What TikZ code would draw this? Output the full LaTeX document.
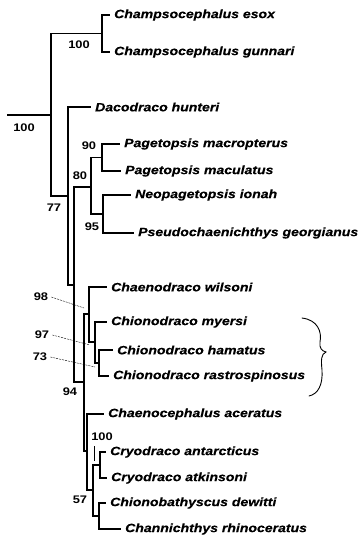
\documentclass[tikz,border=0pt]{standalone}
\usepackage{fontspec}
\newfontfamily\taxfont[FakeStretch=1.17, BoldItalicFeatures={FakeBold=0.4}]{Liberation Sans}
\tikzset{
  branch/.style={line width=1.4pt},
  taxon/.style={anchor=west, inner xsep=4pt, inner ysep=0pt,
    font=\taxfont\fontsize{12}{12}\selectfont\bfseries\itshape},
  support/.style={inner sep=0pt, font=\taxfont\fontsize{11}{11}\selectfont\bfseries},
  leader/.style={thin, dash pattern=on 2pt off 1pt},
  hand/.style={line width=0.9pt, line cap=round},
}
\begin{document}
\begin{tikzpicture}[x=1pt,y=-1pt]
        \useasboundingbox (0,0) rectangle (359,538);

        % Internal nodes
        \coordinate (root) at (7,115);
        \coordinate (nA) at (51,115);
        \coordinate (nChamp) at (102,33.5);
        \coordinate (nB) at (68,196);
        \coordinate (nC) at (74,285);
        \coordinate (n80) at (91,187);
        \coordinate (nPag) at (102,157.5);
        \coordinate (n95) at (103,214);
        \coordinate (n94) at (84,382);
        \coordinate (n98) at (89,314);
        \coordinate (n97) at (95,342);
        \coordinate (n73) at (99,363);
        \coordinate (nF) at (87,451);
        \coordinate (n57) at (93,490);
        \coordinate (nCryo) at (100,465);
        \coordinate (nChan) at (99,516);

        % Taxa
        \node[taxon] (esox) at (110,15) {Champsocephalus esox};
        \node[taxon] (gunnari) at (110,52) {Champsocephalus gunnari};
        \node[taxon] (hunteri) at (91,107) {Dacodraco hunteri};
        \node[taxon] (macropterus) at (120,144) {Pagetopsis macropterus};
        \node[taxon] (maculatus) at (121,171) {Pagetopsis maculatus};
        \node[taxon] (ionah) at (131,195) {Neopagetopsis ionah};
        \node[taxon] (georgianus) at (134,233) {Pseudochaenichthys georgianus};
        \node[taxon] (wilsoni) at (107,287) {Chaenodraco wilsoni};
        \node[taxon] (myersi) at (107,322) {Chionodraco myersi};
        \node[taxon] (hamatus) at (113,350) {Chionodraco hamatus};
        \node[taxon] (rastro) at (109,376) {Chionodraco rastrospinosus};
        \node[taxon] (aceratus) at (104,414) {Chaenocephalus aceratus};
        \node[taxon] (antarcticus) at (106,452) {Cryodraco antarcticus};
        \node[taxon] (atkinsoni) at (107,478) {Cryodraco atkinsoni};
        \node[taxon] (dewitti) at (106,503) {Chionobathyscus dewitti};
        \node[taxon] (rhino) at (121,529) {Channichthys rhinoceratus};

        % Branches
        \draw[branch] (root) -- (nA);
        \draw[branch] (nA) |- (nChamp);
        \draw[branch] (nA) |- (nB);
        \draw[branch] (nChamp) |- (esox.west);
        \draw[branch] (nChamp) |- (gunnari.west);
        \draw[branch] (nB) |- (hunteri.west);
        \draw[branch] (nB) |- (nC);
        \draw[branch] (nC) |- (n80);
        \draw[branch] (nC) |- (n94);
        \draw[branch] (n80) |- (nPag);
        \draw[branch] (n80) |- (n95);
        \draw[branch] (nPag) |- (macropterus.west);
        \draw[branch] (nPag) |- (maculatus.west);
        \draw[branch] (n95) |- (ionah.west);
        \draw[branch] (n95) |- (georgianus.west);
        \draw[branch] (n94) |- (n98);
        \draw[branch] (n94) |- (nF);
        \draw[branch] (n98) |- (wilsoni.west);
        \draw[branch] (n98) |- (n97);
        \draw[branch] (n97) |- (myersi.west);
        \draw[branch] (n97) |- (n73);
        \draw[branch] (n73) |- (hamatus.west);
        \draw[branch] (n73) |- (rastro.west);
        \draw[branch] (nF) |- (aceratus.west);
        \draw[branch] (nF) |- (n57);
        \draw[branch] (n57) |- (nCryo);
        \draw[branch] (n57) |- (nChan);
        \draw[branch] (nCryo) |- (antarcticus.west);
        \draw[branch] (nCryo) |- (atkinsoni.west);
        \draw[branch] (nChan) |- (dewitti.west);
        \draw[branch] (nChan) |- (rhino.west);

        % Support values
        \node[support] (s100a) at (24,128) {100};
        \node[support] (s100b) at (79,45) {100};
        \node[support] (s77) at (54,208) {77};
        \node[support] (s80) at (80,176) {80};
        \node[support] (s90) at (89,146) {90};
        \node[support] (s95) at (92,227) {95};
        \node[support] (s98) at (41,297) {98};
        \node[support] (s97) at (42,335) {97};
        \node[support] (s73) at (40,357) {73};
        \node[support] (s94) at (70,392) {94};
        \node[support] (s100c) at (102,437) {100};
        \node[support] (s57) at (80,500) {57};

        % Leader lines
        \coordinate (t98) at (84,308);
        \coordinate (t97) at (90,345);
        \coordinate (t73) at (95,367);
        \coordinate (t100) at (94,461);
        \draw[leader] ([xshift=3pt]s98.east) -- (t98);
        \draw[leader] ([xshift=3pt]s97.east) -- (t97);
        \draw[leader] ([xshift=3pt]s73.east) -- (t73);
        \draw[thin] ([yshift=-5pt]s100c.south -| t100) -- (t100);

        % Handwritten brace
        \draw[hand] (302,318) .. controls (318,320) and (322,332) .. (320,342)
              .. controls (319,348) and (322,351) .. (326,352)
              .. controls (321,354) and (321,360) .. (322,370)
              .. controls (323,385) and (318,394) .. (309,396);
\end{tikzpicture}
\end{document}
